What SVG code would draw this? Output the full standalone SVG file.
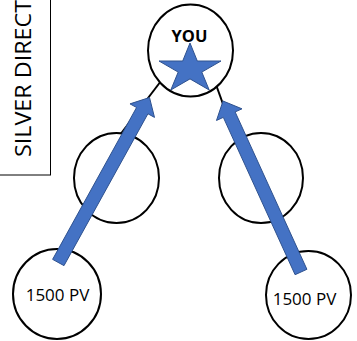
<svg xmlns="http://www.w3.org/2000/svg" width="357" height="341" viewBox="0 0 357 341">
  <style>
    .node { fill: #ffffff; stroke: #000000; stroke-width: 2; }
    .lbl { font-family: "Open Sans", "Liberation Sans", sans-serif; font-size: 17px; fill: #000000; text-anchor: middle; }
    .conn { stroke: #000000; stroke-width: 2; fill: none; }
    .arrow { fill: #4472C4; stroke: #2F528F; stroke-width: 1; stroke-linejoin: miter; }
  </style>
  <rect width="357" height="341" fill="#ffffff"/>
  <g id="label-box">
    <rect x="-1" y="-1" width="51.5" height="176" fill="#ffffff" stroke="#000000" stroke-width="1"/>
    <text transform="translate(31,157) rotate(-90)" x="0" y="0" font-family="'Open Sans', 'Liberation Sans', sans-serif" font-size="21" fill="#000000" textLength="157" lengthAdjust="spacingAndGlyphs">SILVER DIRECT</text>
  </g>
  <g id="connectors">
    <line class="conn" x1="121" y1="133.5" x2="161" y2="81"/>
    <line class="conn" x1="216.5" y1="86" x2="236.4" y2="141.4"/>
  </g>
  <g id="node-you">
    <ellipse class="node" cx="190.5" cy="50.5" rx="42.5" ry="46"/>
    <text x="189.5" y="42" font-family="'Open Sans', 'Liberation Sans', sans-serif" font-size="16.5" font-weight="bold" text-anchor="middle" fill="#000000">YOU</text>
    <polygon points="190,43 197.3,61 221,61 201.8,72.1 209.2,90 190,78.9 170.8,90 178.2,72.1 159,61 182.7,61" fill="#4472C4" stroke="#2F528F" stroke-width="1"/>
  </g>
  <g id="node-mid-left">
    <ellipse class="node" cx="116.5" cy="178" rx="42.5" ry="45"/>
  </g>
  <g id="node-mid-right">
    <ellipse class="node" cx="261" cy="178" rx="42" ry="45"/>
  </g>
  <g id="node-bottom-left">
    <ellipse class="node" cx="57" cy="294" rx="44" ry="45"/>
    <text class="lbl" x="57.5" y="301">1500 PV</text>
  </g>
  <g id="node-bottom-right">
    <ellipse class="node" cx="308.5" cy="295" rx="42.5" ry="44"/>
    <text class="lbl" x="304.5" y="305">1500 PV</text>
  </g>
  <g id="arrows">
    <polygon class="arrow" points="63.99,265.64 147.93,113.77 154.49,117.40 149.5,97.5 129.99,103.86 136.55,107.49 52.61,259.36"/>
    <polygon class="arrow" points="306.91,269.30 235.14,111.95 241.97,108.84 223,101 216.49,120.46 223.32,117.35 295.09,274.70"/>
  </g>
</svg>
